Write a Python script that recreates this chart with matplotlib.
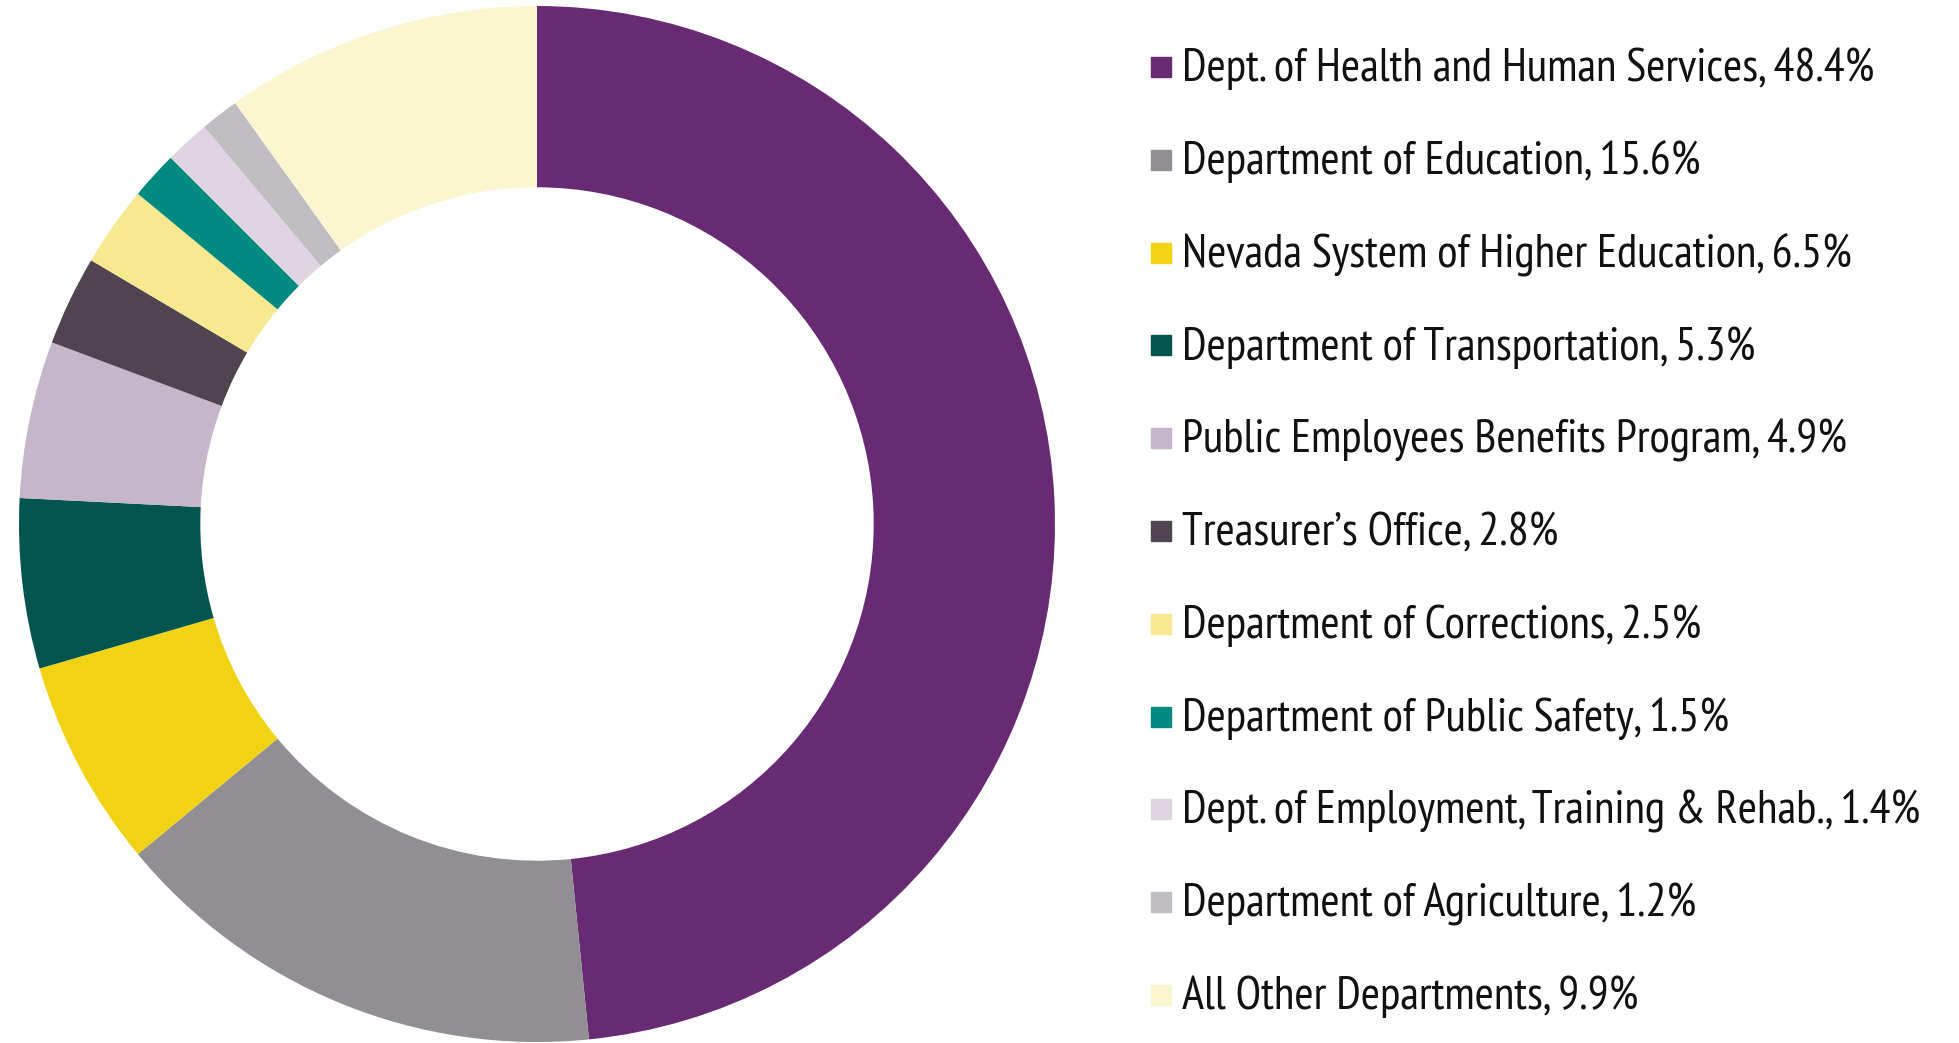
import matplotlib
matplotlib.use("Agg")
import matplotlib.pyplot as plt
from matplotlib import font_manager
from matplotlib.lines import Line2D

departments = [
    "Dept. of Health and Human Services",
    "Department of Education",
    "Nevada System of Higher Education",
    "Department of Transportation",
    "Public Employees Benefits Program",
    "Treasurer\u2019s Office",
    "Department of Corrections",
    "Department of Public Safety",
    "Dept. of Employment, Training & Rehab.",
    "Department of Agriculture",
    "All Other Departments",
]
shares = [48.4, 15.6, 6.5, 5.3, 4.9, 2.8, 2.5, 1.5, 1.4, 1.2, 9.9]
colors = ["#672a73", "#918e94", "#f1d313", "#02544f", "#c6b6ca", "#4f4450",
          "#f8e88f", "#00897f", "#dfd5e1", "#c0bec2", "#fbf5d0"]

names = {f.name for f in font_manager.fontManager.ttflist}
font = "DejaVu Sans"
for cand in ["PT Sans Narrow", "Liberation Sans Narrow", "Roboto Condensed",
             "Open Sans Condensed", "Noto Sans Display"]:
    if cand in names:
        font = cand
        break

W, H = 1959, 1043
fig = plt.figure(figsize=(W / 100, H / 100), dpi=100)

# donut: center (537, 524) px, radius 518 px
ax = fig.add_axes([19 / W, 1 / H, 1036 / W, 1036 / H])
ax.pie(shares, colors=colors, startangle=90, counterclock=False,
       wedgeprops=dict(width=0.35, linewidth=0), radius=1)
ax.set_xlim(-1, 1)
ax.set_ylim(-1, 1)
ax.set_aspect("equal")
ax.axis("off")

# size the font so the first label is ~692 px wide, as in the original
renderer = fig.canvas.get_renderer()
probe = fig.text(0, 0, f"{departments[0]}, {shares[0]}%", fontsize=20, family=font)
w20 = probe.get_window_extent(renderer).width
probe.remove()
fsize = 20 * 692 / w20

# legend rows
for i, (name, val, c) in enumerate(zip(departments, shares, colors)):
    y = 1 - (67 + 92.8 * i) / H
    fig.add_artist(Line2D([1161 / W], [y], marker="s", markersize=14.5,
                          color=c, linestyle="none", transform=fig.transFigure))
    fig.text(1182 / W, y + 2.5 / H, f"{name}, {val}%", fontsize=fsize, family=font,
             va="center_baseline", ha="left", color="#111111")

fig.savefig("out.png", dpi=100)
